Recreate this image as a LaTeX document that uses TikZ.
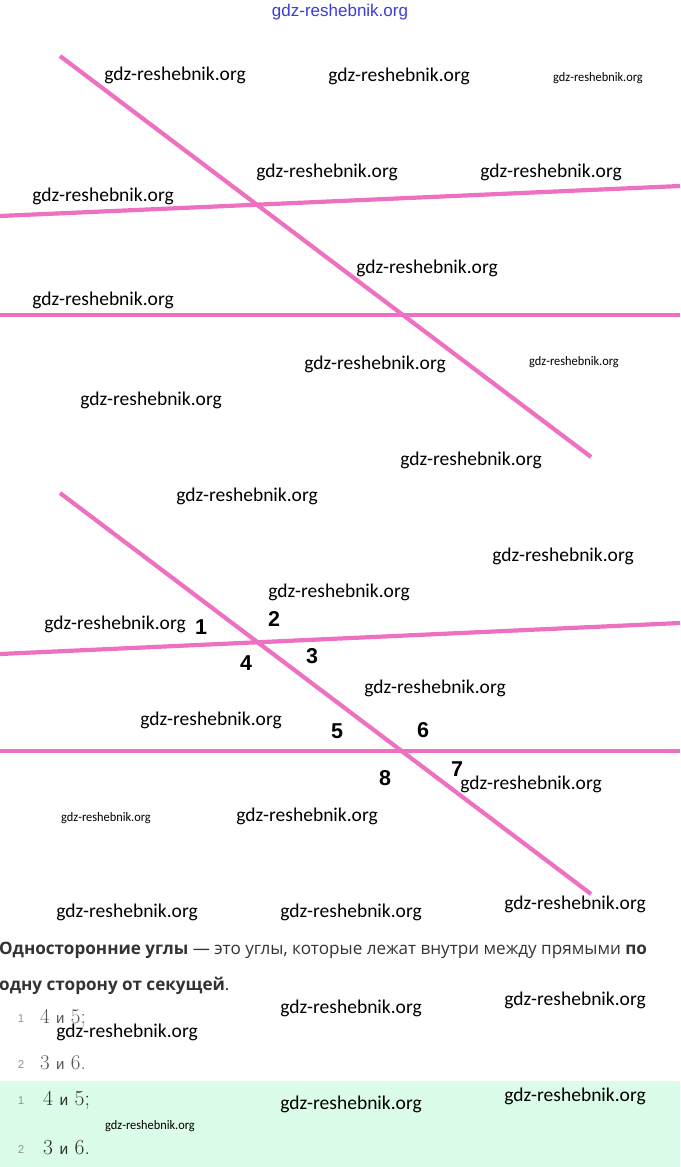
\documentclass[tikz,border=0pt]{standalone}
\usepackage{fontspec}
\newfontfamily\wmfont{Carlito}
\newfontfamily\txtfont{Open Sans}
\newfontfamily\lblfont{Liberation Sans}
\newfontfamily\cyrfont{Liberation Sans}
\definecolor{pinkline}{RGB}{238,112,192}
\definecolor{txtgray}{RGB}{51,51,51}
\definecolor{itemgray}{RGB}{85,85,85}
\definecolor{itemdark}{RGB}{45,45,45}
\definecolor{numgray}{RGB}{150,150,150}
\definecolor{greenbg}{RGB}{218,252,232}
\definecolor{wmblue}{RGB}{60,60,220}
\begin{document}
\begin{tikzpicture}[x=1pt,y=-1pt,
  pline/.style={draw=pinkline,line width=4.2pt},
  wm/.style={font=\wmfont\fontsize{19.5}{20}\selectfont,inner sep=0,text=black},
  wms/.style={font=\wmfont\fontsize{13}{14}\selectfont,inner sep=0,text=black,xscale=0.95},
  lbl/.style={font=\lblfont\bfseries\fontsize{21.5}{22}\selectfont,inner sep=0,text=black},
  inum/.style={font=\lblfont\fontsize{11.5}{13}\selectfont,inner sep=0,text=numgray},
  item/.style={font=\fontsize{21}{22}\selectfont,inner sep=0,text=itemgray,anchor=west},
  itembig/.style={font=\fontsize{21.5}{22}\selectfont,inner sep=0,text=itemdark,anchor=west}]
\useasboundingbox (0,0) rectangle (680,1167);
\fill[white] (0,0) rectangle (680,1167);
\fill[greenbg] (0,1081) rectangle (680,1167);

% top figure
\coordinate (t1) at (60,56);
\coordinate (t2) at (591,457);
\coordinate (a1) at (0,216);
\coordinate (a2) at (680,186);
\coordinate (b1) at (0,315);
\coordinate (b2) at (680,315);
\draw[pline] (a1) -- (a2);
\draw[pline] (b1) -- (b2);
\draw[pline] (t1) -- (t2);

% bottom figure
\coordinate (u1) at (60,493);
\coordinate (u2) at (591,894);
\coordinate (c1) at (0,654);
\coordinate (c2) at (680,623);
\coordinate (d1) at (0,751);
\coordinate (d2) at (680,751);
\draw[pline] (c1) -- (c2);
\draw[pline] (d1) -- (d2);
\draw[pline] (u1) -- (u2);

\node[lbl] (l1) at (201,627) {1};
\node[lbl] (l2) at (274,619) {2};
\node[lbl] (l3) at (312,656) {3};
\node[lbl] (l4) at (246,663) {4};
\node[lbl] (l5) at (337,731) {5};
\node[lbl] (l6) at (423,730) {6};
\node[lbl] (l7) at (457,769) {7};
\node[lbl] (l8) at (385,778) {8};

% text
\node[anchor=base west,inner sep=0,text=txtgray,font=\txtfont\fontsize{17.1}{18}\selectfont] (p1) at (-1,954)
  {\textbf{Односторонние углы} — это углы, которые лежат внутри между прямыми \textbf{по}};
\node[anchor=base west,inner sep=0,text=txtgray,font=\txtfont\fontsize{17.1}{18}\selectfont] (p2) at (-1,990)
  {\textbf{одну сторону от секущей}.};

\node[inum] (n1) at (21,1019) {1};
\node[item] (i1) at (40,1018) {4 {\cyrfont\fontsize{15}{16}\selectfont и} 5;};
\node[inum] (n2) at (21,1064) {2};
\node[item] (i2) at (40,1063) {3 {\cyrfont\fontsize{15}{16}\selectfont и} 6.};
\node[inum] (n3) at (21,1101) {1};
\node[itembig] (i3) at (43,1100) {4 {\cyrfont\fontsize{15.5}{16}\selectfont и} 5;};
\node[inum] (n4) at (21,1149) {2};
\node[itembig] (i4) at (43,1148) {3 {\cyrfont\fontsize{15.5}{16}\selectfont и} 6.};

% watermarks
\node[font=\lblfont\fontsize{17}{18}\selectfont,text=wmblue,inner sep=0] (w0) at (340,12) {gdz-reshebnik.org};
\node[wm] (w1) at (175,75) {gdz-reshebnik.org};
\node[wm] (w2) at (399,76) {gdz-reshebnik.org};
\node[wms] (w3) at (598,78) {gdz-reshebnik.org};
\node[wm] (w4) at (327,172) {gdz-reshebnik.org};
\node[wm] (w5) at (551,172) {gdz-reshebnik.org};
\node[wm] (w6) at (103,196) {gdz-reshebnik.org};
\node[wm] (w7) at (427,268) {gdz-reshebnik.org};
\node[wm] (w8) at (103,300) {gdz-reshebnik.org};
\node[wm] (w9) at (375,364) {gdz-reshebnik.org};
\node[wms] (w10) at (574,362) {gdz-reshebnik.org};
\node[wm] (w11) at (151,400) {gdz-reshebnik.org};
\node[wm] (w12) at (471,460) {gdz-reshebnik.org};
\node[wm] (w13) at (247,496) {gdz-reshebnik.org};
\node[wm] (w14) at (563,556) {gdz-reshebnik.org};
\node[wm] (w15) at (339,592) {gdz-reshebnik.org};
\node[wm] (w16) at (115,624) {gdz-reshebnik.org};
\node[wm] (w17) at (435,688) {gdz-reshebnik.org};
\node[wm] (w18) at (211,720) {gdz-reshebnik.org};
\node[wms] (w19) at (106,818) {gdz-reshebnik.org};
\node[wm] (w20) at (307,816) {gdz-reshebnik.org};
\node[wm] (w21) at (531,784) {gdz-reshebnik.org};
\node[wm] (w22) at (127,912) {gdz-reshebnik.org};
\node[wm] (w23) at (351,912) {gdz-reshebnik.org};
\node[wm] (w24) at (575,904) {gdz-reshebnik.org};
\node[wm] (w25) at (351,1008) {gdz-reshebnik.org};
\node[wm] (w26) at (575,1000) {gdz-reshebnik.org};
\node[wm] (w27) at (127,1032) {gdz-reshebnik.org};
\node[wm] (w28) at (351,1104) {gdz-reshebnik.org};
\node[wm] (w29) at (575,1096) {gdz-reshebnik.org};
\node[wms] (w30) at (150,1126) {gdz-reshebnik.org};
\end{tikzpicture}
\end{document}
